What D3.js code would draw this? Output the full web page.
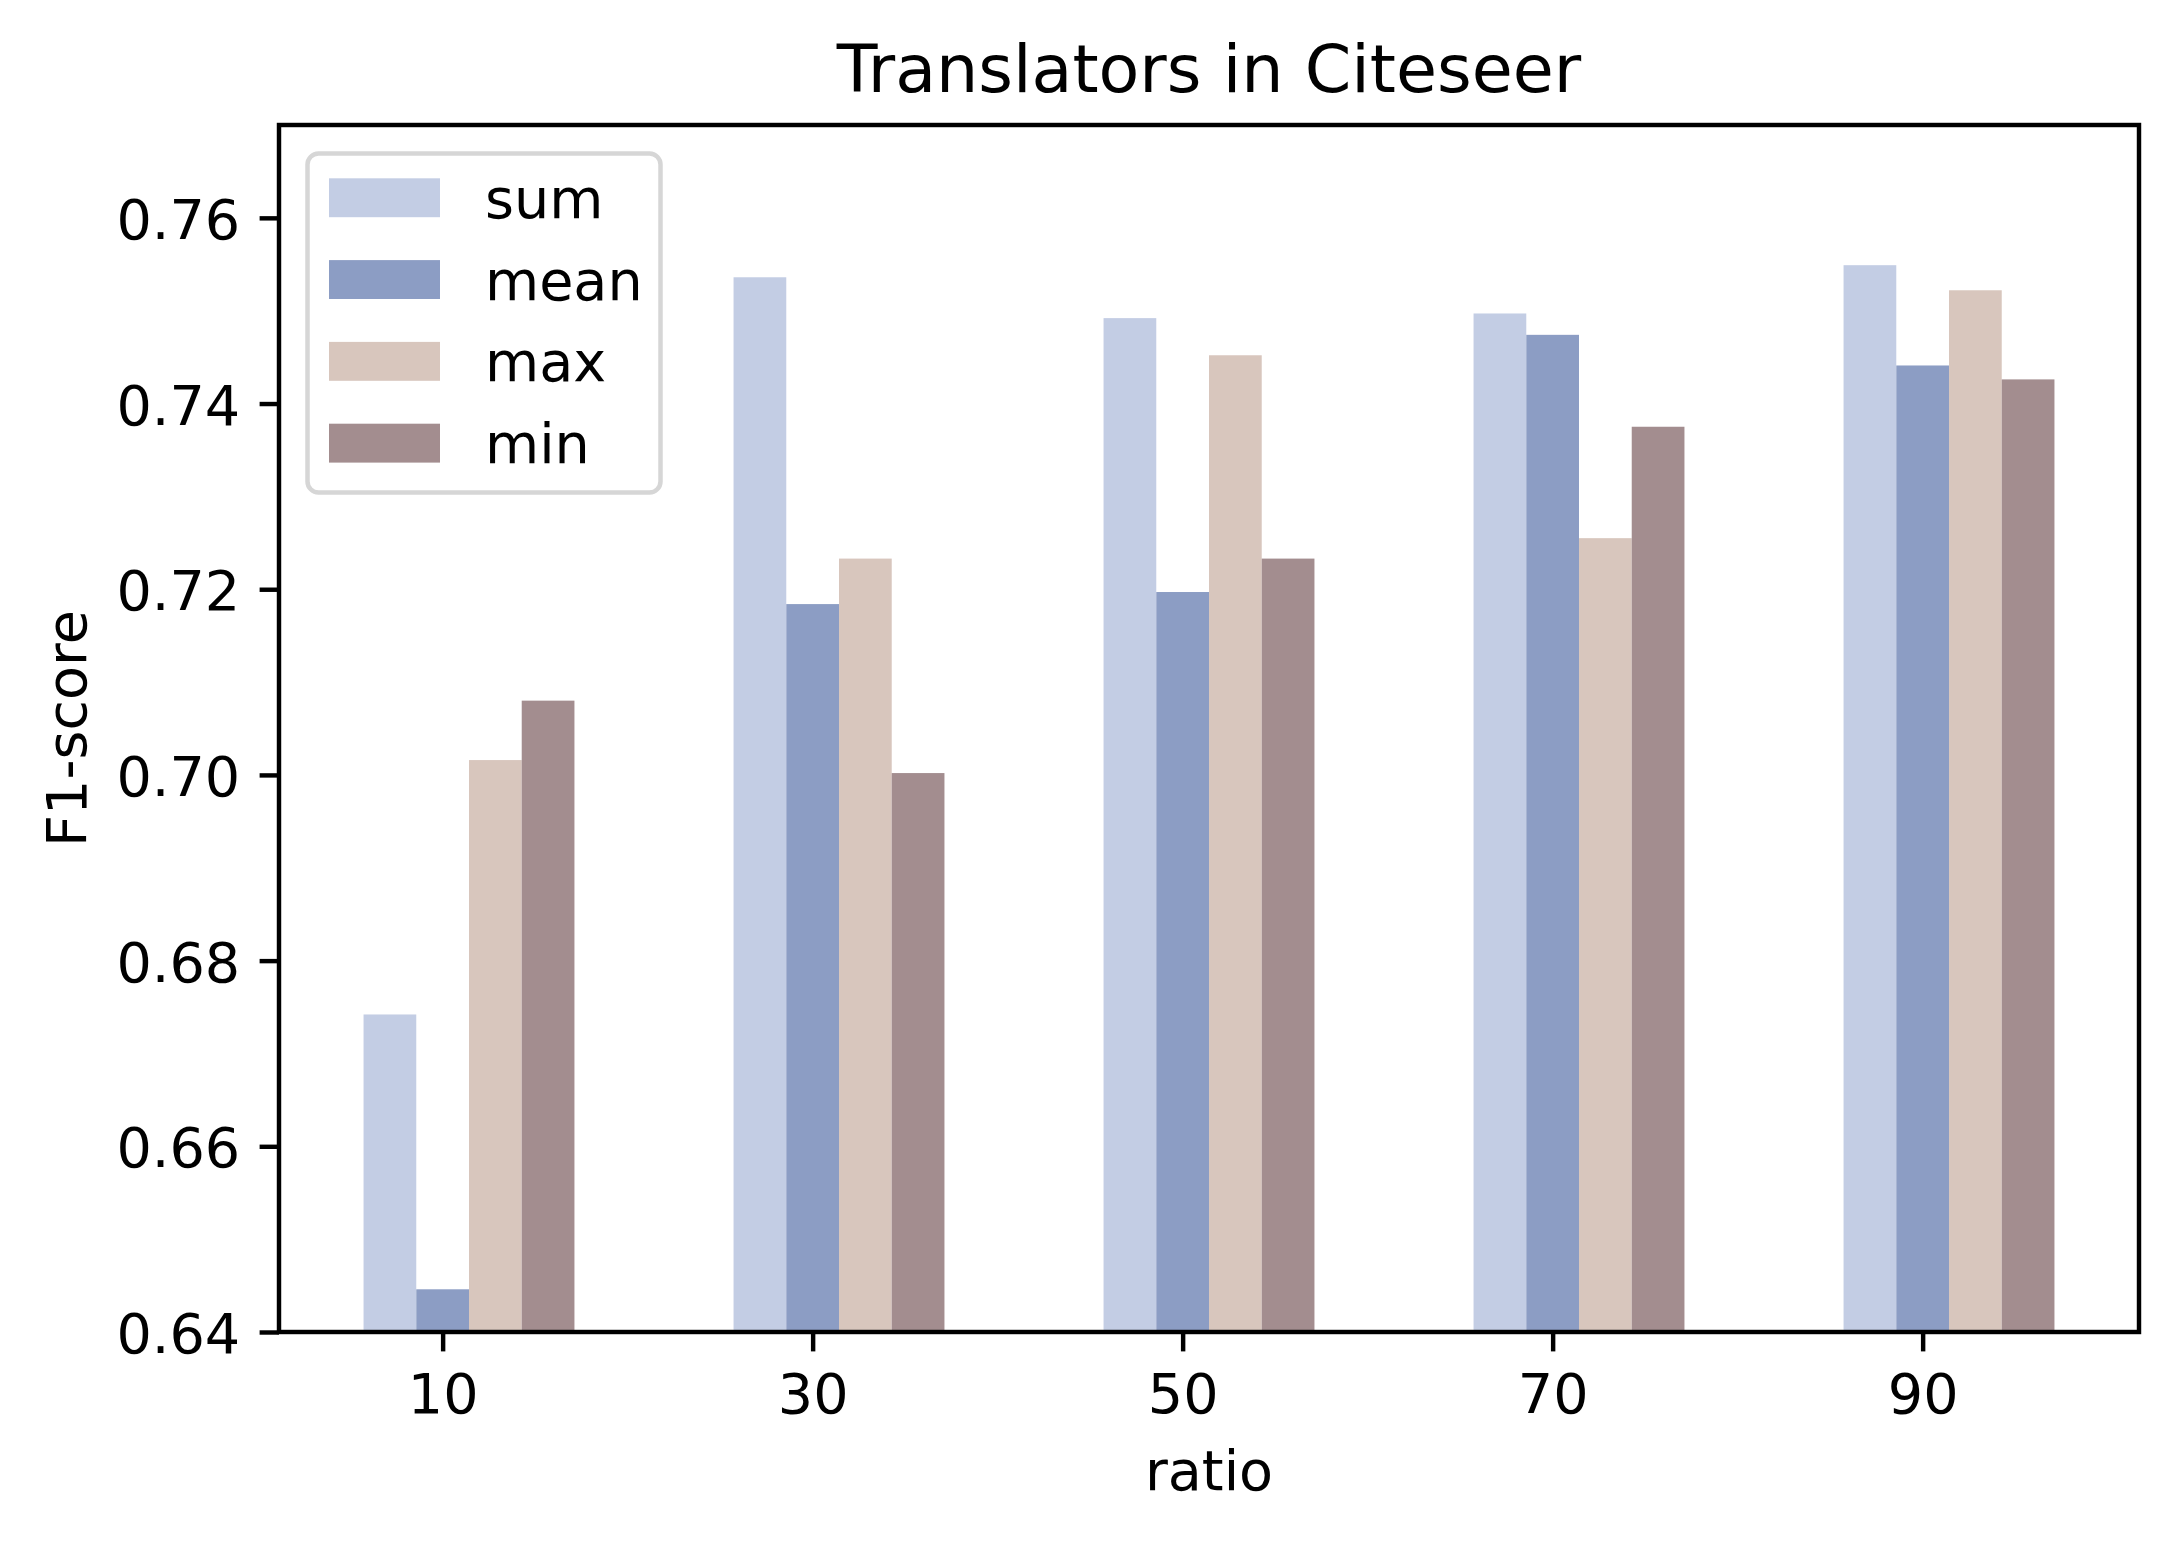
<!DOCTYPE html>
<html>
<head>
<meta charset="utf-8">
<script src="https://cdn.jsdelivr.net/npm/d3@7"></script>
<style>
  html, body { margin: 0; padding: 0; background: #fff; }
  svg { display: block; }
  text { font-family: "DejaVu Sans", sans-serif; fill: #000; }
</style>
</head>
<body>
<script>
// ---- data ----
const ratios = [10, 30, 50, 70, 90];
const seriesNames = ["sum", "mean", "max", "min"];
const sumValues  = [0.6742, 0.7536, 0.7492, 0.7497, 0.7549];
const meanValues = [0.6446, 0.7184, 0.7197, 0.7474, 0.7441];
const maxValues  = [0.7016, 0.7233, 0.7452, 0.7255, 0.7522];
const minValues  = [0.7080, 0.7002, 0.7233, 0.7375, 0.7426];
const seriesColors = ["#c3cde4", "#8c9dc4", "#d8c6bd", "#a38d8f"];
const yTicks = [0.64, 0.66, 0.68, 0.70, 0.72, 0.74, 0.76];
const yDomain = [0.64, 0.77];
const titleText = "Translators in Citeseer";
const xLabel = "ratio";
const yLabel = "F1-score";

const seriesValues = [sumValues, meanValues, maxValues, minValues];

// ---- layout ----
const W = 2178, H = 1542;
const pLeft = 279, pRight = 2139, pTop = 125, pBottom = 1332;
const barW = 2.85;          // bar width in data units
const fs = 55.6, titleFs = 66.7;
const lw = 4.44, tickLen = 19.4, tickPad = 19.4;

const xMin = ratios[0] - 1.5 * barW, xMax = ratios[ratios.length - 1] + 2.5 * barW;
const marg = 0.05 * (xMax - xMin);
const x = d3.scaleLinear().domain([xMin - marg, xMax + marg]).range([pLeft, pRight]);
const y = d3.scaleLinear().domain(yDomain).range([pBottom, pTop]);

const svg = d3.select("body").append("svg").attr("width", W).attr("height", H);
svg.append("rect").attr("width", W).attr("height", H).attr("fill", "#fff");

// bars
const bars = [];
seriesValues.forEach((vals, s) => {
  vals.forEach((v, i) => bars.push({ s, r: ratios[i], v }));
});
svg.append("g").selectAll("rect").data(bars).join("rect")
  .attr("x", d => x(d.r + (d.s - 1) * barW - barW / 2))
  .attr("width", d => x(d.r + (d.s - 1) * barW + barW / 2) - x(d.r + (d.s - 1) * barW - barW / 2))
  .attr("y", d => y(d.v))
  .attr("height", d => y(yDomain[0]) - y(d.v))
  .attr("fill", d => seriesColors[d.s]);

// axes via d3
const xAxis = d3.axisBottom(x).tickValues(ratios).tickFormat(d3.format("d"))
  .tickSize(tickLen).tickPadding(tickPad);
const gx = svg.append("g").attr("transform", `translate(0,${pBottom})`).call(xAxis);
gx.select(".domain").remove();
gx.selectAll(".tick line").attr("stroke", "#000").attr("stroke-width", lw);
gx.selectAll(".tick text").attr("font-size", fs).attr("font-family", "DejaVu Sans")
  .attr("dy", null).attr("y", tickLen + tickPad + 42.5).attr("fill", "#000");

const yAxis = d3.axisLeft(y).tickValues(yTicks).tickFormat(d3.format(".2f"))
  .tickSize(tickLen).tickPadding(tickPad);
const gy = svg.append("g").attr("transform", `translate(${pLeft},0)`).call(yAxis);
gy.select(".domain").remove();
gy.selectAll(".tick line").attr("stroke", "#000").attr("stroke-width", lw);
gy.selectAll(".tick text").attr("font-size", fs).attr("font-family", "DejaVu Sans")
  .attr("dy", null).attr("y", 20.5).attr("fill", "#000");

// spines
svg.append("rect").attr("x", pLeft).attr("y", pTop)
  .attr("width", pRight - pLeft).attr("height", pBottom - pTop)
  .attr("fill", "none").attr("stroke", "#000").attr("stroke-width", lw)
  .attr("stroke-linejoin", "miter");

// title and labels
svg.append("text").attr("x", (pLeft + pRight) / 2).attr("y", 91.7)
  .attr("text-anchor", "middle").attr("font-size", titleFs).text(titleText);
svg.append("text").attr("x", (pLeft + pRight) / 2).attr("y", 1490)
  .attr("text-anchor", "middle").attr("font-size", fs).text(xLabel);
svg.append("text").attr("transform", `translate(86,${(pTop + pBottom) / 2}) rotate(-90)`)
  .attr("text-anchor", "middle").attr("font-size", fs).text(yLabel);

// legend
const lg = svg.append("g");
lg.append("rect").attr("x", 307.5).attr("y", 153.5).attr("width", 353).attr("height", 339)
  .attr("rx", 11).attr("ry", 11)
  .attr("fill", "#fff").attr("fill-opacity", 0.8)
  .attr("stroke", "#d6d6d6").attr("stroke-width", 4.5);
const rowPitch = 81.8, firstTop = 178.3, hH = 38.9;
const items = lg.selectAll("g.item").data(seriesNames).join("g").attr("class", "item");
items.append("rect")
  .attr("x", 329).attr("y", (d, i) => firstTop + i * rowPitch)
  .attr("width", 111).attr("height", hH)
  .attr("fill", (d, i) => seriesColors[i]);
items.append("text")
  .attr("x", 485).attr("y", (d, i) => firstTop + i * rowPitch + hH / 2 + 20)
  .attr("font-size", fs).text(d => d);
</script>
</body>
</html>
